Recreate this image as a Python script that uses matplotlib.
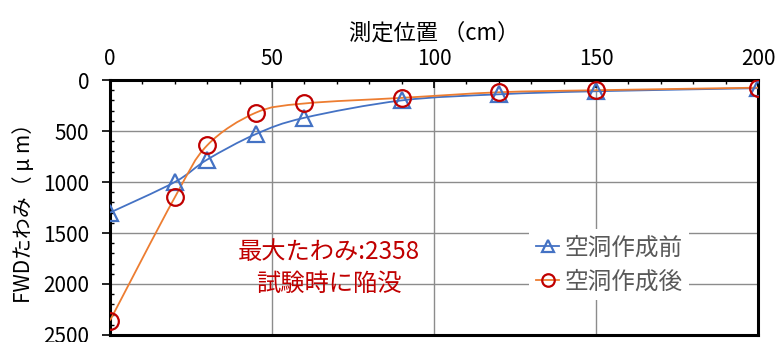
import matplotlib.pyplot as plt
from matplotlib.path import Path
from matplotlib.patches import PathPatch
from matplotlib.lines import Line2D
from matplotlib.ticker import MultipleLocator

plt.rcParams['font.family'] = ['Noto Sans CJK JP', 'DejaVu Sans']

# data
positions = [0, 20, 30, 45, 60, 90, 120, 150, 200]
before = [1300, 1000, 780, 530, 370, 200, 140, 110, 80]
after = [2358, 1150, 640, 320, 230, 175, 120, 100, 75]
labels = ["空洞作成前", "空洞作成後"]

BLUE = "#4472C4"
ORANGE = "#ED7D31"
RED = "#C00000"


def smooth_path(xs, ys):
    # Catmull-Rom through the points, as cubic bezier segments (Excel-like smoothed line)
    pts = list(zip(xs, ys))
    verts = [pts[0]]
    codes = [Path.MOVETO]
    n = len(pts)
    for i in range(n - 1):
        p0 = pts[i - 1] if i > 0 else pts[i]
        p1 = pts[i]
        p2 = pts[i + 1]
        p3 = pts[i + 2] if i + 2 < n else pts[i + 1]
        c1 = (p1[0] + (p2[0] - p0[0]) / 6, p1[1] + (p2[1] - p0[1]) / 6)
        c2 = (p2[0] - (p3[0] - p1[0]) / 6, p2[1] - (p3[1] - p1[1]) / 6)
        verts += [c1, c2, p2]
        codes += [Path.CURVE4] * 3
    return Path(verts, codes)


fig = plt.figure(figsize=(7.76, 3.42), dpi=100)
ax = fig.add_axes([0.1418, 0.0205, 0.835, 0.7455])

ax.add_patch(PathPatch(smooth_path(positions, before), facecolor="none", edgecolor=BLUE, linewidth=1.3, zorder=3))
ax.add_patch(PathPatch(smooth_path(positions, after), facecolor="none", edgecolor=ORANGE, linewidth=1.3, zorder=3))
ax.plot(positions, before, linestyle="none", marker="^", markersize=12,
        markerfacecolor="none", markeredgecolor=BLUE, markeredgewidth=1.6, zorder=4)
ax.plot(positions, after, linestyle="none", marker="o", markersize=12,
        markerfacecolor="none", markeredgecolor=RED, markeredgewidth=1.6, zorder=5)

ax.set_xlim(0, 200)
ax.set_ylim(2500, 0)
ax.xaxis.set_major_locator(MultipleLocator(50))
ax.xaxis.set_minor_locator(MultipleLocator(10))
ax.yaxis.set_major_locator(MultipleLocator(500))
ax.yaxis.set_minor_locator(MultipleLocator(100))
ax.xaxis.tick_top()
ax.xaxis.set_label_position("top")
ax.tick_params(axis="x", which="both", direction="in", labelsize=15, pad=7)
ax.tick_params(axis="y", which="both", direction="in", labelsize=15, pad=9)
ax.tick_params(which="major", length=6, width=1.2, color="black")
ax.tick_params(which="minor", length=3, width=1.0, color="black")
ax.tick_params(axis="y", which="major", direction="out", length=6)
ax.grid(True, which="major", color="#8c8c8c", linewidth=1.0)
ax.set_axisbelow(True)
for side in ["top", "left", "right", "bottom"]:
    ax.spines[side].set_linewidth(2.2)
    ax.spines[side].set_color("black")

ax.set_xlabel("測定位置 （cm）", fontsize=16, labelpad=6)
ax.set_ylabel("FWDたわみ（ μ m）", fontsize=15, labelpad=6)

ax.text(67.5, 1690, "最大たわみ:2358", color=RED, fontsize=17.5, ha="center", va="center")
ax.text(67.5, 2000, "試験時に陥没", color=RED, fontsize=17.5, ha="center", va="center")

handles = [
    Line2D([], [], color=BLUE, linewidth=1.3, marker="^", markersize=9,
           markerfacecolor="none", markeredgecolor=BLUE, markeredgewidth=1.6),
    Line2D([], [], color=ORANGE, linewidth=1.3, marker="o", markersize=9,
           markerfacecolor="none", markeredgecolor=RED, markeredgewidth=1.6),
]
leg = ax.legend(handles, labels, loc="center", bbox_to_anchor=(0.67, 0.15, 0.2, 0.25), fontsize=17,
                frameon=True, framealpha=1, edgecolor="none", fancybox=False, handlelength=1.0,
                handletextpad=0.2, borderpad=0.3, borderaxespad=0, labelspacing=0.45,
                labelcolor="#595959")

fig.savefig("out.png", dpi=100)
